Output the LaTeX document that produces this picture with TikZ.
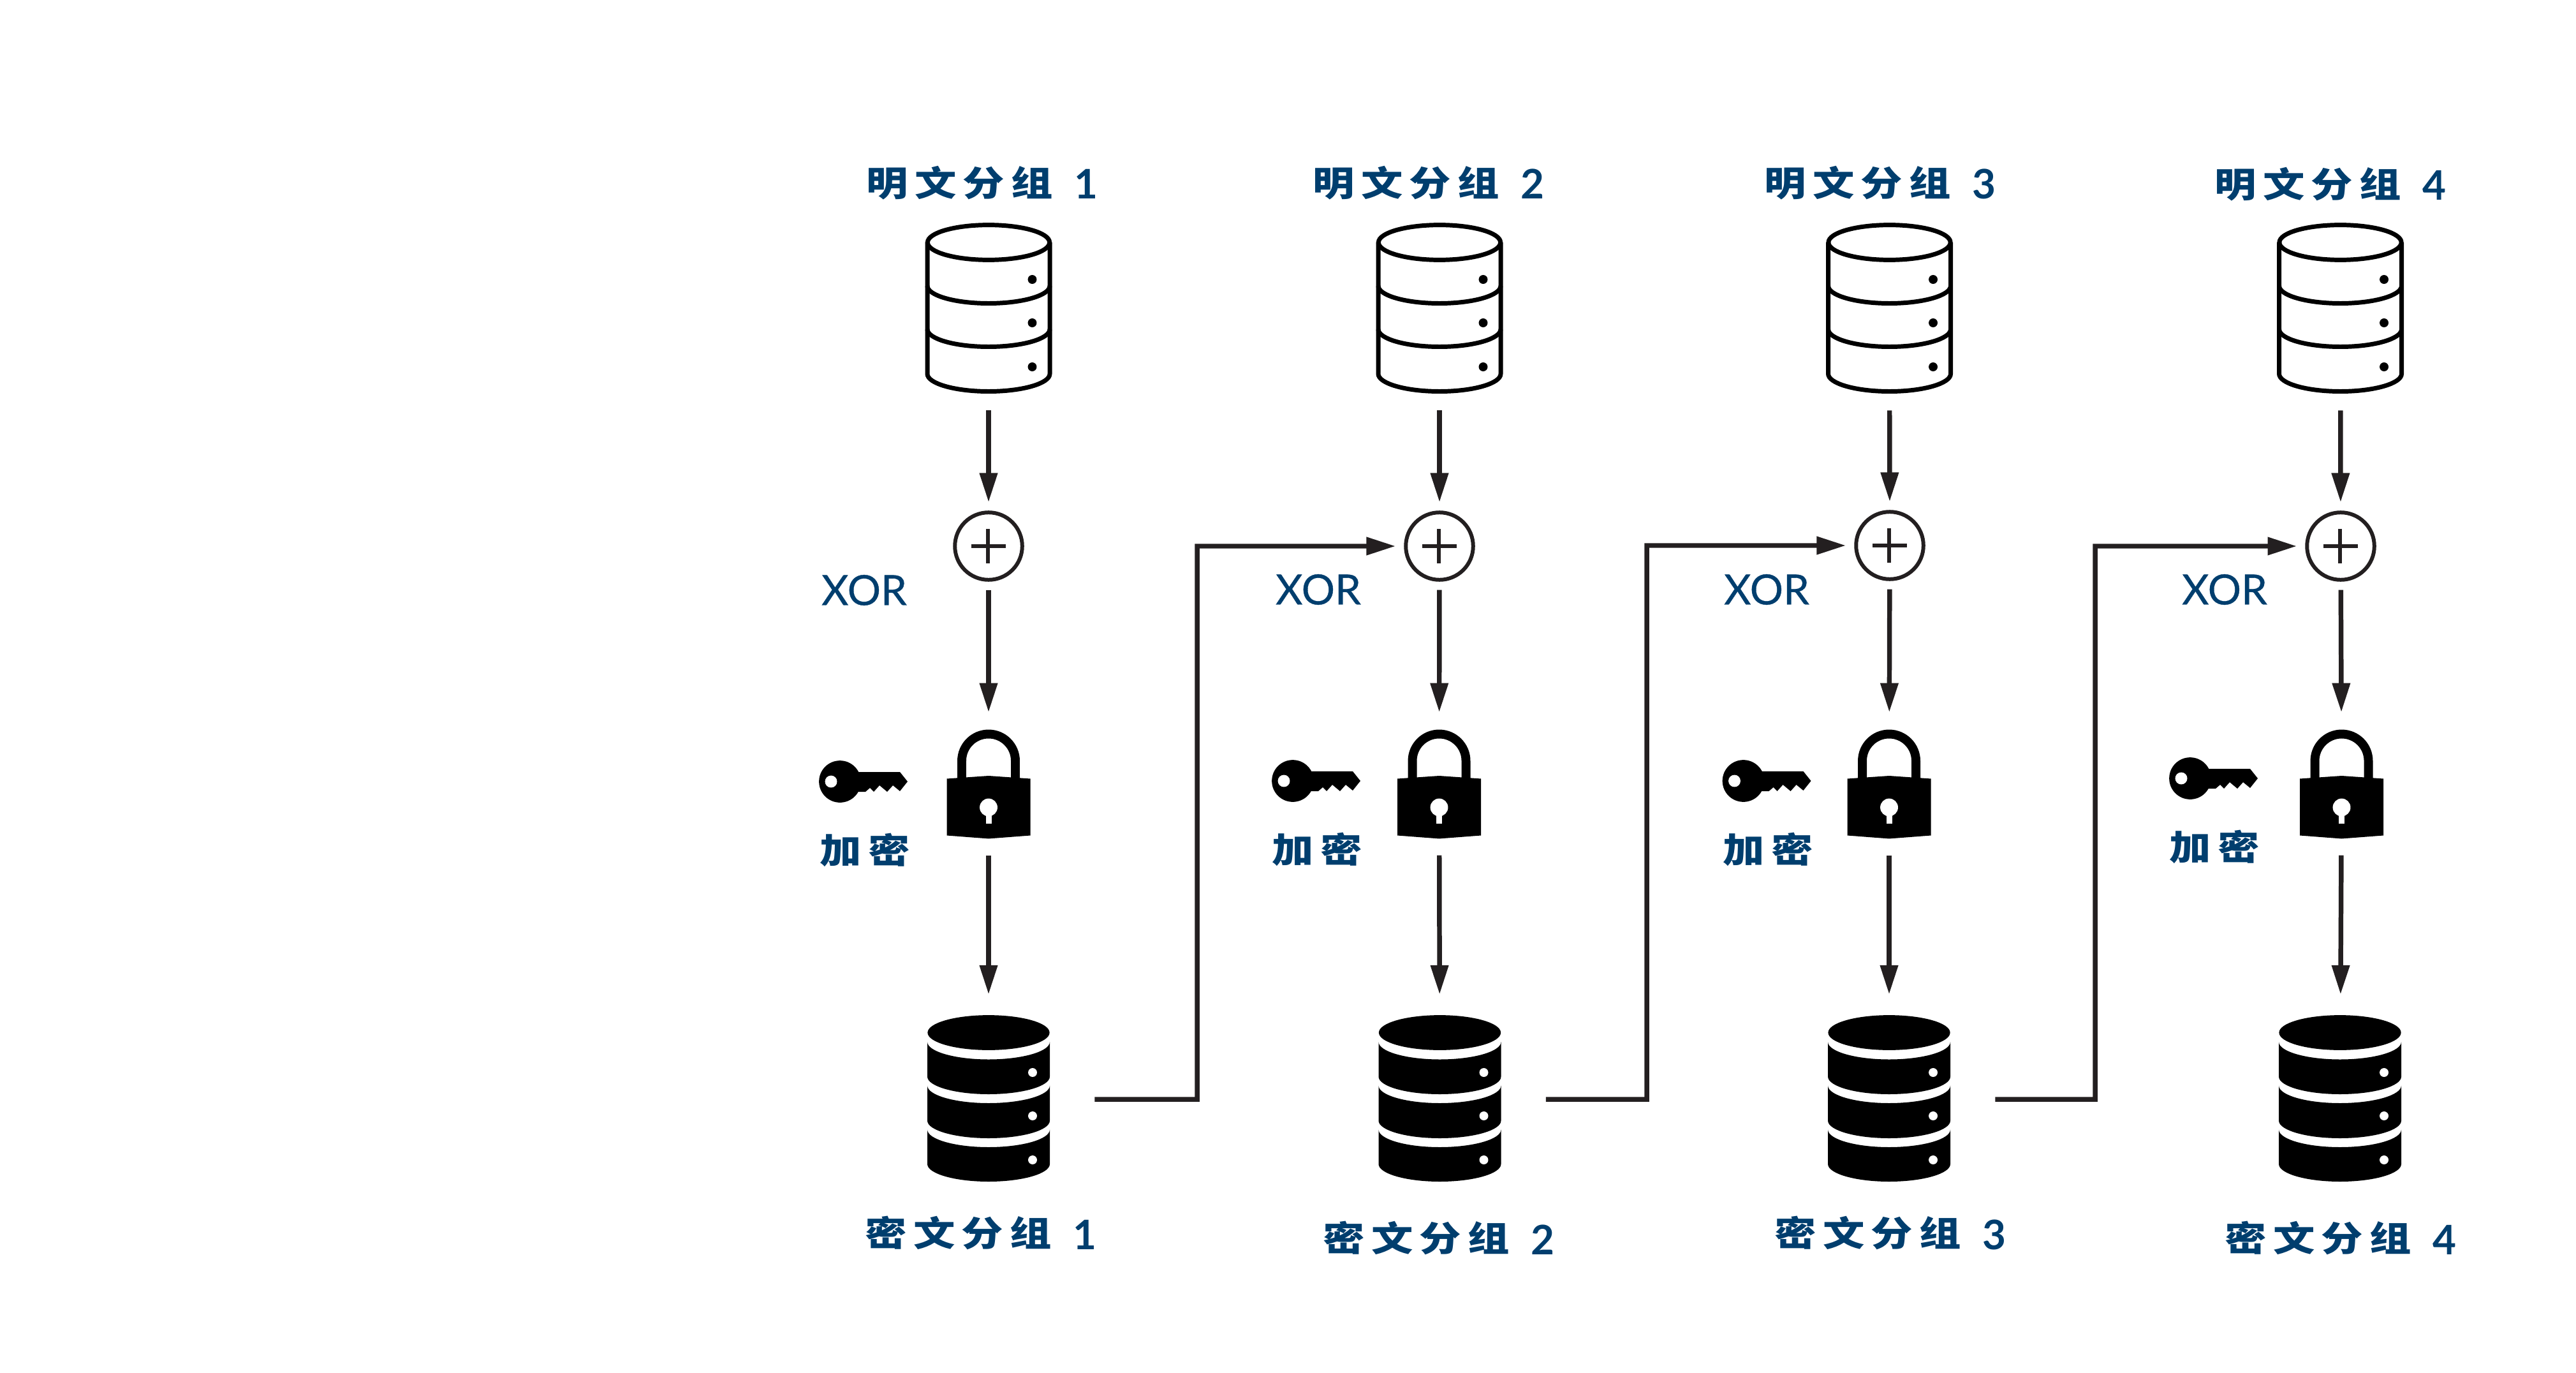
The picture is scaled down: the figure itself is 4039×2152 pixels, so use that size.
\documentclass[tikz,border=0pt]{standalone}
\usepackage{graphicx}
\usepackage{fontspec}
\usetikzlibrary{arrows.meta}
\newfontfamily\cjkfont[LetterSpace=16]{Noto Sans CJK SC}
\newfontfamily\latfont{Lato}
\newfontfamily\xorfont[FakeBold=0.5]{Lato}
\definecolor{labelblue}{HTML}{003E6E}
\definecolor{linedark}{HTML}{231F20}
\def\u{0.5669pt}
% lower half-ellipse of a cylinder band, left to right and right to left
\newcommand{\arcLR}[1]{(-96,#1) .. controls (-96,#1+15) and (-53,#1+27.5) .. (0,#1+27.5) .. controls (53,#1+27.5) and (96,#1+15) .. (96,#1)}
\newcommand{\arcRLto}[1]{.. controls (96,#1+15) and (53,#1+27.5) .. (0,#1+27.5) .. controls (-53,#1+27.5) and (-96,#1+15) .. (-96,#1)}
\newcommand{\darkseg}[2]{\fill[black] \arcLR{#1} -- (96,#2) \arcRLto{#2} -- cycle;}
\newcommand{\ctext}[1]{\raisebox{2.3pt}{\scalebox{1.2}[1]{\fontsize{31}{34}\cjkfont\bfseries #1}}}
\newcommand{\dtext}[1]{{\fontsize{36.3}{40}\latfont\bfseries #1}}
\tikzset{
  iconbox/.style={inner sep=0pt,outer sep=0pt,minimum width=#1},
  dbbox/.style={iconbox=198*\u,minimum height=268*\u},
  darkbox/.style={iconbox=192*\u,minimum height=261*\u},
  lockbox/.style={iconbox=131*\u,minimum height=171*\u},
  xorcircle/.style={circle,draw=linedark,line width=6*\u,fill=white,inner sep=0pt,outer sep=0pt,minimum size=106*\u},
  plusmark/.style={draw=linedark,line width=5.5*\u},
  flow/.style={draw=linedark,line width=7.5*\u,line join=miter,-{Triangle[length=46*\u,width=27*\u]}},
  dbtoxor/.style={flow,shorten <=28*\u,shorten >=16*\u},
  xortolock/.style={flow,shorten <=16*\u,shorten >=27*\u},
  locktodb/.style={flow,shorten <=27*\u,shorten >=33*\u},
  chain/.style={flow,shorten <=71*\u,shorten >=16*\u},
  title/.style={anchor=base west,inner sep=0pt,text=labelblue},
  xorlabel/.style={anchor=center,inner sep=0pt,text=labelblue,font=\fontsize{37.2}{40}\xorfont},
  enclabel/.style={anchor=center,inner sep=0pt,text=labelblue},
  lightdb/.pic={
    \draw[black,line width=7*\u,line join=round] (-96,-102) -- \arcLR{104} -- (96,-102);
    \draw[black,line width=7*\u] (0,-102) ellipse [x radius=96*\u,y radius=27.5*\u];
    \draw[black,line width=7*\u] \arcLR{-34};
    \draw[black,line width=7*\u] \arcLR{34};
    \fill[black] (68.5,-44) circle [radius=7*\u] (68.5,24) circle [radius=7*\u] (68.5,93) circle [radius=7*\u];
  },
  darkdb/.pic={
    \fill[black] (0,-103) ellipse [x radius=96*\u,y radius=27.5*\u];
    \darkseg{-88.5}{-34}
    \darkseg{-20}{35}
    \darkseg{49}{103}
    \fill[white] (69,-40.5) circle [radius=7*\u] (69,27.5) circle [radius=7*\u] (69,96.5) circle [radius=7*\u];
  },
  padlock/.pic={
    \draw[black,line width=14*\u] (-42,-6) -- (-42,-36) .. controls (-42,-59.2) and (-23.2,-78) .. (0,-78) .. controls (23.2,-78) and (42,-59.2) .. (42,-36) -- (42,-6);
    \fill[black] (-65.5,-8) -- (0,-12.5) -- (65.5,-8) -- (65.5,81) -- (0,86) -- (-65.5,81) -- cycle;
    \fill[white] (0,37) circle [radius=14*\u];
    \fill[white] (-4.5,40) rectangle (4.5,62);
  },
  keyicon/.pic={
    \fill[black] (0,0) circle [radius=33*\u];
    \fill[black] (25,-15) -- (94,-15) -- (106,0) -- (94,15) -- (83,6) -- (74,16) -- (62,6) -- (53,16) -- (47,10) -- (40,16) -- (25,16) -- cycle;
    \fill[white] (-14,0) circle [radius=9.5*\u];
  },
}
\begin{document}
\begin{tikzpicture}[x=0.02cm,y=-0.02cm]
\useasboundingbox (0,0) rectangle (4039,2152);
\fill[white] (0,0) rectangle (4039,2152);

% titles
\node[title] (t1) at (1358,312) {\ctext{明文分组}\hspace{19pt}\dtext{1}};
\node[title] (t2) at (2058,312) {\ctext{明文分组}\hspace{19pt}\dtext{2}};
\node[title] (t3) at (2766,312) {\ctext{明文分组}\hspace{19pt}\dtext{3}};
\node[title] (t4) at (3472,314) {\ctext{明文分组}\hspace{19pt}\dtext{4}};

% plaintext blocks
\foreach \n/\x in {1/1550,2/2257,3/2962.5,4/3669.5}{
  \node[dbbox] (db\n) at (\x,482) {};
  \pic at (\x,482) {lightdb};
}
% xor circles
\node[xorcircle] (xor1) at (1550,856) {};
\node[xorcircle] (xor2) at (2257,856) {};
\node[xorcircle] (xor3) at (2963,855) {};
\node[xorcircle] (xor4) at (3670,856) {};
\foreach \n in {1,2,3,4}{
  \path[plusmark] (xor\n.center) ++(-27,0) -- ++(54,0) (xor\n.center) ++(-1,-27) -- ++(0,54);
}
% XOR labels
\node[xorlabel] (xl1) at (1355,925) {XOR};
\node[xorlabel] (xl2) at (2067,924) {XOR};
\node[xorlabel] (xl3) at (2770,924) {XOR};
\node[xorlabel] (xl4) at (3488,924) {XOR};
% locks
\node[lockbox] (lock1) at (1550,1228.5) {};
\node[lockbox] (lock2) at (2256.5,1228.5) {};
\node[lockbox] (lock3) at (2962,1228.5) {};
\node[lockbox] (lock4) at (3671.5,1228.5) {};
\foreach \n in {1,2,3,4}{\pic at (lock\n.center) {padlock};}
% keys
\pic at (1317,1225) {keyicon};
\pic at (2027,1224) {keyicon};
\pic at (2733.5,1224) {keyicon};
\pic at (3434,1220) {keyicon};
% encrypt labels
\node[enclabel] (e1) at (1356,1332) {\ctext{加密}};
\node[enclabel] (e2) at (2065,1331) {\ctext{加密}};
\node[enclabel] (e3) at (2772,1331) {\ctext{加密}};
\node[enclabel] (e4) at (3472,1327) {\ctext{加密}};
% ciphertext blocks
\foreach \n/\x in {1/1550,2/2257.5,3/2962,4/3669}{
  \node[darkbox] (dk\n) at (\x,1721.5) {};
  \pic at (\x,1721.5) {darkdb};
}
% bottom titles
\node[title] (b1) at (1356,1958) {\ctext{密文分组}\hspace{19pt}\dtext{1}};
\node[title] (b2) at (2074,1966) {\ctext{密文分组}\hspace{19pt}\dtext{2}};
\node[title] (b3) at (2782,1958) {\ctext{密文分组}\hspace{19pt}\dtext{3}};
\node[title] (b4) at (3488,1966) {\ctext{密文分组}\hspace{19pt}\dtext{4}};

% vertical flow
\foreach \n in {1,2,3,4}{
  \draw[dbtoxor] (db\n) -- (xor\n);
  \draw[xortolock] (xor\n) -- (lock\n);
  \draw[locktodb] (lock\n) -- (dk\n);
}
% chaining
\coordinate (c1a) at (1877,1723);
\coordinate (c1b) at (1877,856);
\coordinate (c2a) at (2582,1723);
\coordinate (c2b) at (2582,855);
\coordinate (c3a) at (3285,1723);
\coordinate (c3b) at (3285,856);
\draw[chain] (dk1.east) ++(0,1.5) -- (c1a) -- (c1b) -- (xor2.west);
\draw[chain] (dk2.east) ++(0,1.5) -- (c2a) -- (c2b) -- (xor3.west);
\draw[chain] (dk3.east) ++(0,1.5) -- (c3a) -- (c3b) -- (xor4.west);
\end{tikzpicture}
\end{document}
